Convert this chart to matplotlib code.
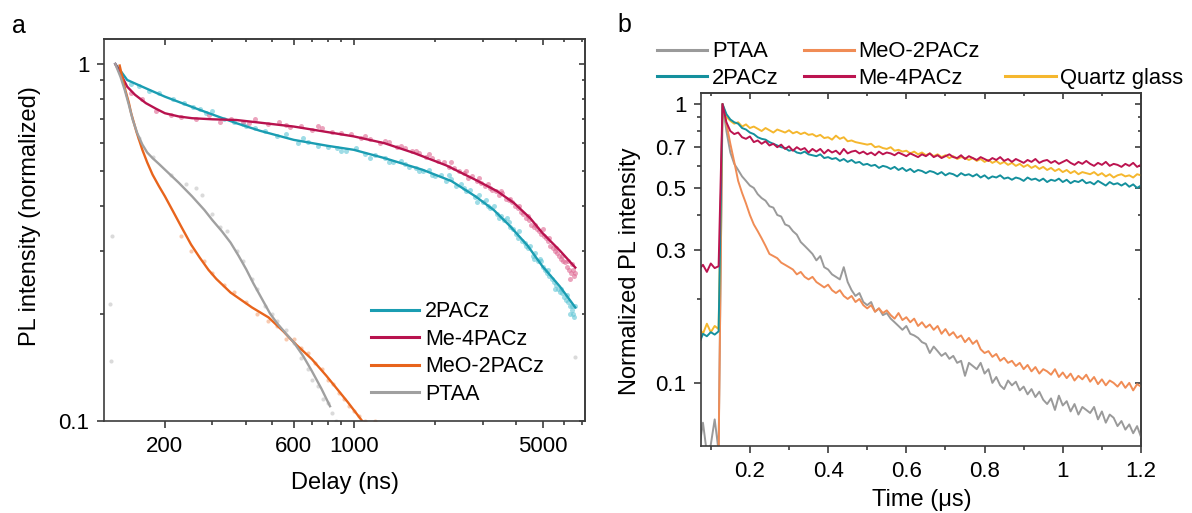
import matplotlib
matplotlib.use("Agg")
import matplotlib.pyplot as plt
from matplotlib.ticker import FixedLocator, NullFormatter, FixedFormatter
from matplotlib.lines import Line2D

plt.rcParams['font.family'] = ['Liberation Sans', 'DejaVu Sans']

# ---------------- panel a : fitted decays (Delay in ns) ----------------
fit_2pacz_x = [131, 138, 145, 170, 200, 269, 367, 450, 600, 800, 1000, 1300, 1792, 2300, 2820, 3300, 3795, 4400, 5000, 5800, 6610]
fit_2pacz_y = [1.0, 0.95, 0.902, 0.855, 0.81, 0.744, 0.683, 0.65, 0.613, 0.59, 0.575, 0.545, 0.506, 0.47, 0.426, 0.39, 0.351, 0.31, 0.271, 0.238, 0.208]

fit_me4_x = [131, 138, 145, 155, 170, 185, 200, 225, 252, 300, 367, 450, 600, 1000, 1300, 1675, 2200, 2820, 3400, 3920, 4500, 5000, 5800, 6610]
fit_me4_y = [1.0, 0.93, 0.864, 0.82, 0.777, 0.75, 0.728, 0.713, 0.705, 0.70, 0.697, 0.685, 0.668, 0.627, 0.60, 0.563, 0.52, 0.474, 0.44, 0.408, 0.37, 0.336, 0.30, 0.269]

fit_meo_x = [136, 140, 143, 147, 150, 157, 165, 172, 180, 190, 200, 215, 230, 250, 269, 290, 310, 350, 420, 484, 550, 600, 700, 791, 950, 1097, 1150]
fit_meo_y = [0.99, 0.90, 0.84, 0.78, 0.728, 0.645, 0.575, 0.53, 0.49, 0.455, 0.426, 0.385, 0.35, 0.312, 0.287, 0.265, 0.25, 0.229, 0.208, 0.195, 0.178, 0.166, 0.149, 0.134, 0.113, 0.098, 0.093]

fit_ptaa_x = [131, 137, 142, 147, 152, 158, 165, 172, 180, 190, 200, 225, 252, 280, 300, 325, 350, 375, 400, 425, 454, 490, 520, 560, 600, 650, 700, 760, 817]
fit_ptaa_y = [1.0, 0.92, 0.846, 0.77, 0.698, 0.64, 0.595, 0.565, 0.545, 0.525, 0.506, 0.465, 0.426, 0.39, 0.365, 0.34, 0.316, 0.29, 0.266, 0.243, 0.222, 0.20, 0.188, 0.176, 0.166, 0.152, 0.138, 0.123, 0.110]

pts_2pacz_x = [150, 160, 175, 190, 215, 235, 255, 285, 300, 330, 360, 400, 430, 470, 520, 560, 620, 680, 740, 800,
               870, 940, 1020, 1100, 1200, 1300, 1400, 1500, 1600, 1700, 1800, 1900, 2000, 2100, 2200, 2300, 2400, 2500, 2600, 2700,
               2800, 2900, 3000, 3100, 3200, 3300, 3400, 3500, 3600, 3700, 3800, 3900, 4000, 4100, 4200, 4300, 4400, 4500, 4600, 4700,
               4800, 4900, 5000, 5100, 5200, 5300, 5400, 5500, 5600, 5700, 5800, 5900, 6000, 6100, 6200, 6300, 6400, 6500, 6600,
               2250, 2550, 2850, 3150, 3450, 3750, 4050, 4350, 4650, 4950, 5250, 5550, 5850, 6150, 6450, 6300, 6550,
               1150, 1350, 1550, 1750, 1950, 650, 900, 390, 270]
pts_2pacz_y = [0.88, 0.87, 0.84, 0.83, 0.80, 0.78, 0.76, 0.73, 0.74, 0.70, 0.69, 0.67, 0.66, 0.65, 0.63, 0.635, 0.60, 0.605, 0.59, 0.585,
               0.58, 0.57, 0.58, 0.56, 0.555, 0.545, 0.53, 0.535, 0.515, 0.51, 0.50, 0.505, 0.485, 0.49, 0.47, 0.475, 0.455, 0.46, 0.44, 0.445,
               0.425, 0.43, 0.41, 0.415, 0.395, 0.40, 0.38, 0.375, 0.365, 0.37, 0.35, 0.345, 0.335, 0.34, 0.32, 0.315, 0.305, 0.31, 0.29, 0.295,
               0.28, 0.285, 0.27, 0.265, 0.26, 0.255, 0.25, 0.245, 0.24, 0.235, 0.23, 0.228, 0.222, 0.218, 0.215, 0.21, 0.205, 0.20, 0.21,
               0.49, 0.45, 0.41, 0.40, 0.37, 0.36, 0.325, 0.31, 0.285, 0.28, 0.265, 0.235, 0.235, 0.225, 0.21, 0.20, 0.195,
               0.545, 0.53, 0.525, 0.50, 0.49, 0.62, 0.57, 0.68, 0.75]

pts_me4_x = [150, 165, 185, 210, 230, 260, 290, 320, 350, 390, 430, 480, 530, 580, 640, 700, 760, 830, 900, 980,
             1060, 1150, 1250, 1350, 1450, 1550, 1650, 1750, 1850, 1950, 2050, 2150, 2250, 2350, 2450, 2550, 2650, 2750, 2850, 2950,
             3050, 3150, 3250, 3350, 3450, 3550, 3650, 3750, 3850, 3950, 4050, 4150, 4250, 4350, 4450, 4550, 4650, 4750, 4850, 4950,
             5050, 5150, 5250, 5350, 5450, 5550, 5650, 5750, 5850, 5950, 6050, 6150, 6250, 6350, 6450, 6550, 6600,
             2300, 2600, 2900, 3200, 3500, 3800, 4100, 4400, 4700, 5000, 5300, 5600, 5900, 6200, 6500, 6300,
             1100, 1300, 1500, 1700, 1900, 740, 560, 410]
pts_me4_y = [0.83, 0.80, 0.74, 0.72, 0.71, 0.70, 0.72, 0.69, 0.70, 0.69, 0.70, 0.68, 0.69, 0.665, 0.67, 0.655, 0.66, 0.645, 0.64, 0.635,
             0.62, 0.615, 0.60, 0.605, 0.585, 0.58, 0.57, 0.565, 0.55, 0.545, 0.535, 0.53, 0.515, 0.51, 0.50, 0.495, 0.48, 0.485, 0.47, 0.465,
             0.455, 0.46, 0.445, 0.44, 0.43, 0.435, 0.42, 0.415, 0.41, 0.40, 0.395, 0.385, 0.38, 0.37, 0.365, 0.355, 0.35, 0.345, 0.34, 0.335,
             0.33, 0.325, 0.32, 0.31, 0.305, 0.30, 0.295, 0.29, 0.285, 0.28, 0.278, 0.27, 0.265, 0.26, 0.275, 0.255, 0.26,
             0.53, 0.50, 0.48, 0.45, 0.44, 0.42, 0.40, 0.375, 0.355, 0.345, 0.325, 0.305, 0.29, 0.28, 0.265, 0.25,
             0.63, 0.61, 0.59, 0.57, 0.56, 0.67, 0.675, 0.685]

pts_meo_x = [230, 250, 280, 300, 330, 360, 400, 440, 480, 520, 560, 600, 640, 680, 720, 760, 800, 840, 880, 920, 960, 1000, 1050, 1100, 1150, 1200]
pts_meo_y = [0.33, 0.30, 0.28, 0.26, 0.24, 0.23, 0.215, 0.20, 0.19, 0.185, 0.17, 0.17, 0.16, 0.155, 0.145, 0.14, 0.13, 0.127, 0.12, 0.115, 0.11, 0.107, 0.103, 0.10, 0.098, 0.10]

pts_ptaa_x = [160, 180, 210, 240, 260, 275, 300, 320, 340, 370, 390, 420, 440, 470, 500, 520, 560, 600, 640, 680, 700, 740, 770, 800, 830, 860, 127, 125, 126, 6580]
pts_ptaa_y = [0.62, 0.55, 0.49, 0.46, 0.45, 0.43, 0.38, 0.35, 0.34, 0.30, 0.28, 0.25, 0.235, 0.21, 0.20, 0.19, 0.18, 0.165, 0.15, 0.14, 0.13, 0.125, 0.115, 0.112, 0.105, 0.10, 0.33, 0.212, 0.147, 0.151]

# ---------------- panel b : transients (Time in us) ----------------
time_us = [0.07, 0.08, 0.09, 0.10, 0.11, 0.12, 0.13, 0.14, 0.15, 0.16,
           0.17, 0.18, 0.19, 0.20, 0.21, 0.22, 0.23, 0.24, 0.25, 0.26,
           0.27, 0.28, 0.29, 0.30, 0.31, 0.32, 0.33, 0.34, 0.35, 0.36,
           0.37, 0.38, 0.39, 0.40, 0.41, 0.42, 0.43, 0.44, 0.45, 0.46,
           0.47, 0.48, 0.49, 0.50, 0.51, 0.52, 0.53, 0.54, 0.55, 0.56,
           0.57, 0.58, 0.59, 0.60, 0.61, 0.62, 0.63, 0.64, 0.65, 0.66,
           0.67, 0.68, 0.69, 0.70, 0.71, 0.72, 0.73, 0.74, 0.75, 0.76,
           0.77, 0.78, 0.79, 0.80, 0.81, 0.82, 0.83, 0.84, 0.85, 0.86,
           0.87, 0.88, 0.89, 0.90, 0.91, 0.92, 0.93, 0.94, 0.95, 0.96,
           0.97, 0.98, 0.99, 1.00, 1.01, 1.02, 1.03, 1.04, 1.05, 1.06,
           1.07, 1.08, 1.09, 1.10, 1.11, 1.12, 1.13, 1.14, 1.15, 1.16,
           1.17, 1.18, 1.19, 1.20]

pl_ptaa = [0.058, 0.072, 0.056, 0.060, 0.074, 0.057, 1.00, 0.80, 0.67, 0.61,
           0.58, 0.55, 0.53, 0.51, 0.50, 0.475, 0.46, 0.45, 0.43, 0.425,
           0.40, 0.395, 0.37, 0.365, 0.35, 0.34, 0.32, 0.31, 0.30, 0.29,
           0.275, 0.285, 0.26, 0.255, 0.245, 0.24, 0.235, 0.26, 0.23, 0.215,
           0.205, 0.21, 0.195, 0.19, 0.195, 0.18, 0.185, 0.175, 0.178, 0.17,
           0.165, 0.16, 0.155, 0.16, 0.15, 0.148, 0.145, 0.14, 0.138, 0.128,
           0.135, 0.13, 0.125, 0.128, 0.122, 0.125, 0.118, 0.12, 0.106, 0.118,
           0.115, 0.112, 0.118, 0.108, 0.112, 0.10, 0.105, 0.098, 0.095, 0.102,
           0.098, 0.101, 0.094, 0.097, 0.091, 0.095, 0.089, 0.093, 0.087, 0.084,
           0.088, 0.080, 0.090, 0.083, 0.086, 0.079, 0.084, 0.077, 0.082, 0.080,
           0.078, 0.082, 0.074, 0.079, 0.072, 0.077, 0.075, 0.070, 0.073, 0.068,
           0.071, 0.066, 0.070, 0.064]

pl_meo = [0.05, 0.05, 0.05, 0.05, 0.05, 0.055, 1.00, 0.85, 0.72, 0.62,
          0.53, 0.48, 0.44, 0.40, 0.37, 0.35, 0.33, 0.31, 0.29, 0.285,
          0.28, 0.27, 0.265, 0.26, 0.255, 0.245, 0.25, 0.24, 0.235, 0.24,
          0.23, 0.225, 0.22, 0.225, 0.215, 0.21, 0.215, 0.205, 0.20, 0.205,
          0.195, 0.20, 0.19, 0.185, 0.19, 0.18, 0.185, 0.178, 0.182, 0.175,
          0.17, 0.178, 0.168, 0.172, 0.165, 0.17, 0.16, 0.165, 0.158, 0.162,
          0.155, 0.16, 0.15, 0.156, 0.148, 0.152, 0.145, 0.148, 0.14, 0.145,
          0.138, 0.142, 0.132, 0.128, 0.13, 0.124, 0.127, 0.12, 0.123, 0.118,
          0.12, 0.115, 0.118, 0.112, 0.116, 0.11, 0.114, 0.108, 0.112, 0.11,
          0.107, 0.112, 0.105, 0.109, 0.104, 0.108, 0.102, 0.106, 0.103, 0.107,
          0.101, 0.105, 0.099, 0.103, 0.098, 0.102, 0.10, 0.097, 0.101, 0.096,
          0.10, 0.094, 0.099, 0.097]

pl_2pacz = [0.138, 0.150, 0.147, 0.152, 0.149, 0.153, 1.00, 0.92, 0.88, 0.86,
            0.85, 0.82, 0.81, 0.79, 0.78, 0.76, 0.75, 0.745, 0.73, 0.72,
            0.71, 0.70, 0.695, 0.68, 0.685, 0.67, 0.665, 0.675, 0.66, 0.655,
            0.65, 0.66, 0.64, 0.645, 0.635, 0.64, 0.625, 0.635, 0.62, 0.63,
            0.615, 0.62, 0.605, 0.61, 0.60, 0.605, 0.59, 0.60, 0.595, 0.585,
            0.595, 0.58, 0.59, 0.575, 0.585, 0.57, 0.58, 0.575, 0.565, 0.575,
            0.57, 0.56, 0.57, 0.555, 0.565, 0.56, 0.55, 0.565, 0.555, 0.56,
            0.55, 0.56, 0.545, 0.555, 0.54, 0.55, 0.545, 0.555, 0.54, 0.545,
            0.535, 0.545, 0.54, 0.53, 0.545, 0.535, 0.54, 0.53, 0.54, 0.525,
            0.535, 0.53, 0.54, 0.525, 0.535, 0.52, 0.53, 0.525, 0.535, 0.52,
            0.525, 0.515, 0.53, 0.52, 0.51, 0.525, 0.515, 0.52, 0.51, 0.52,
            0.505, 0.515, 0.50, 0.51]

pl_me4 = [0.255, 0.265, 0.25, 0.268, 0.258, 0.262, 1.00, 0.86, 0.80, 0.78,
          0.79, 0.76, 0.75, 0.765, 0.73, 0.74, 0.72, 0.735, 0.71, 0.72,
          0.70, 0.715, 0.69, 0.705, 0.68, 0.70, 0.685, 0.695, 0.67, 0.69,
          0.675, 0.69, 0.665, 0.685, 0.67, 0.68, 0.66, 0.69, 0.665, 0.675,
          0.68, 0.665, 0.675, 0.66, 0.67, 0.655, 0.675, 0.66, 0.67, 0.665,
          0.655, 0.67, 0.66, 0.65, 0.665, 0.655, 0.645, 0.66, 0.65, 0.665,
          0.645, 0.655, 0.64, 0.65, 0.66, 0.645, 0.64, 0.655, 0.635, 0.65,
          0.64, 0.63, 0.645, 0.635, 0.625, 0.64, 0.63, 0.645, 0.625, 0.635,
          0.62, 0.635, 0.625, 0.615, 0.63, 0.62, 0.635, 0.615, 0.625, 0.63,
          0.615, 0.625, 0.61, 0.62, 0.63, 0.615, 0.605, 0.62, 0.61, 0.625,
          0.61, 0.60, 0.615, 0.605, 0.62, 0.60, 0.61, 0.605, 0.595, 0.61,
          0.60, 0.615, 0.595, 0.605]

pl_quartz = [0.158, 0.150, 0.163, 0.152, 0.160, 0.156, 1.00, 0.90, 0.87, 0.85,
             0.86, 0.83, 0.845, 0.82, 0.83, 0.815, 0.80, 0.82, 0.805, 0.79,
             0.81, 0.80, 0.79, 0.805, 0.785, 0.795, 0.78, 0.79, 0.775, 0.78,
             0.765, 0.775, 0.755, 0.76, 0.745, 0.77, 0.75, 0.76, 0.735, 0.74,
             0.73, 0.725, 0.72, 0.715, 0.72, 0.70, 0.705, 0.695, 0.69, 0.70,
             0.68, 0.685, 0.675, 0.68, 0.665, 0.675, 0.66, 0.67, 0.655, 0.665,
             0.65, 0.66, 0.645, 0.655, 0.64, 0.65, 0.635, 0.645, 0.64, 0.63,
             0.64, 0.625, 0.635, 0.62, 0.63, 0.615, 0.625, 0.61, 0.62, 0.605,
             0.615, 0.60, 0.61, 0.595, 0.605, 0.59, 0.60, 0.585, 0.595, 0.58,
             0.59, 0.575, 0.585, 0.57, 0.58, 0.565, 0.575, 0.56, 0.57, 0.565,
             0.56, 0.57, 0.555, 0.565, 0.55, 0.56, 0.545, 0.555, 0.56, 0.55,
             0.555, 0.545, 0.56, 0.555]

# colours
c_teal_a, c_teal_pts = '#1a9db2', '#5fc6d6'
c_red_a, c_red_pts = '#b8124e', '#df6792'
c_org_a, c_org_pts = '#e8641c', '#f4a070'
c_gry_a, c_gry_pts = '#a0a0a0', '#bdbdbd'
c_ptaa_b, c_meo_b, c_2pacz_b, c_me4_b, c_quartz_b = '#9a9a9a', '#f08c55', '#14909d', '#bc1450', '#f5b72e'
spine_c = '#3c3c3c'

fig = plt.figure(figsize=(11.92, 5.13), dpi=100)


def style_axis(ax):
    for s in ax.spines.values():
        s.set_color(spine_c)
        s.set_linewidth(1.2)
    ax.tick_params(which='both', direction='out', color=spine_c, width=1.2, labelsize=16, pad=5.5)
    ax.tick_params(which='major', length=5)
    ax.tick_params(which='minor', length=3)


def mirror_ticks(ax, xmaj, xmin, ymaj, ymin):
    top = ax.secondary_xaxis('top')
    top.xaxis.set_major_locator(FixedLocator(xmaj))
    top.xaxis.set_minor_locator(FixedLocator(xmin))
    top.tick_params(which='both', direction='in', labeltop=False, color=spine_c, width=1.2)
    top.tick_params(which='major', length=4)
    top.tick_params(which='minor', length=2.5)
    top.spines['top'].set_color(spine_c)
    top.spines['top'].set_linewidth(1.2)
    right = ax.secondary_yaxis('right')
    right.yaxis.set_major_locator(FixedLocator(ymaj))
    right.yaxis.set_minor_locator(FixedLocator(ymin))
    right.tick_params(which='both', direction='in', labelright=False, color=spine_c, width=1.2)
    right.tick_params(which='major', length=4)
    right.tick_params(which='minor', length=2.5)
    right.spines['right'].set_color(spine_c)
    right.spines['right'].set_linewidth(1.2)


# ---------------- panel a ----------------
axa = fig.add_axes([104 / 1192, 92 / 513, 481 / 1192, 382 / 513])
axa.set_xscale('log')
axa.set_yscale('log')

axa.plot(pts_2pacz_x, pts_2pacz_y, 'o', ms=3.6, color=c_teal_pts, alpha=0.6, mec='none')
axa.plot(pts_me4_x, pts_me4_y, 'o', ms=3.6, color=c_red_pts, alpha=0.6, mec='none')
axa.plot(pts_meo_x, pts_meo_y, 'o', ms=3.0, color=c_org_pts, alpha=0.55, mec='none')
axa.plot(pts_ptaa_x, pts_ptaa_y, 'o', ms=3.0, color=c_gry_pts, alpha=0.55, mec='none')

axa.plot(fit_2pacz_x, fit_2pacz_y, color=c_teal_a, lw=1.7, label='2PACz')
axa.plot(fit_me4_x, fit_me4_y, color=c_red_a, lw=1.7, label='Me-4PACz')
axa.plot(fit_meo_x, fit_meo_y, color=c_org_a, lw=1.7, label='MeO-2PACz')
axa.plot(fit_ptaa_x, fit_ptaa_y, color=c_gry_a, lw=1.7, label='PTAA')

axa.set_xlim(119, 7180)
axa.set_ylim(0.1, 1.175)
style_axis(axa)
xa_major = [200, 600, 1000, 5000]
xa_minor = [300, 400, 500, 700, 800, 900, 2000, 3000, 4000, 6000, 7000]
ya_major = [0.1, 1]
ya_minor = [0.2, 0.3, 0.4, 0.5, 0.6, 0.7, 0.8, 0.9]
axa.xaxis.set_major_locator(FixedLocator(xa_major))
axa.xaxis.set_major_formatter(FixedFormatter(['200', '600', '1000', '5000']))
axa.xaxis.set_minor_locator(FixedLocator(xa_minor))
axa.xaxis.set_minor_formatter(NullFormatter())
axa.yaxis.set_major_locator(FixedLocator(ya_major))
axa.yaxis.set_major_formatter(FixedFormatter(['0.1', '1']))
axa.yaxis.set_minor_locator(FixedLocator(ya_minor))
axa.yaxis.set_minor_formatter(NullFormatter())
mirror_ticks(axa, xa_major, xa_minor, ya_major, ya_minor)

axa.set_xlabel('Delay (ns)', fontsize=17)
axa.xaxis.set_label_coords(0.501, -0.162)
axa.xaxis.label.set_va('center')
axa.set_ylabel('PL intensity (normalized)', fontsize=17)
axa.yaxis.set_label_coords(-0.154, 0.537)
axa.yaxis.label.set_va('center')

leg_a = axa.legend(loc='center left', bbox_to_anchor=(371 / 1192, 1 - 353 / 513), bbox_transform=fig.transFigure,
                   frameon=False, fontsize=15.5, handlelength=2.25, handletextpad=0.25, labelspacing=0.3,
                   borderpad=0, borderaxespad=0)
for ln in leg_a.get_lines():
    ln.set_linewidth(2.2)

fig.text(12 / 1192, 1 - 26 / 513, 'a', fontsize=18, va='center', ha='left')

# ---------------- panel b ----------------
axb = fig.add_axes([701 / 1192, 67 / 513, 440 / 1192, 353 / 513])
axb.set_yscale('log')

axb.plot(time_us, pl_ptaa, color=c_ptaa_b, lw=1.4, label='PTAA')
axb.plot(time_us, pl_meo, color=c_meo_b, lw=1.4, label='MeO-2PACz')
axb.plot(time_us, pl_quartz, color=c_quartz_b, lw=1.4, label='Quartz glass')
axb.plot(time_us, pl_2pacz, color=c_2pacz_b, lw=1.4, label='2PACz')
axb.plot(time_us, pl_me4, color=c_me4_b, lw=1.4, label='Me-4PACz')

axb.set_xlim(0.075, 1.2)
axb.set_ylim(0.0594, 1.095)
style_axis(axb)
xb_major = [0.2, 0.4, 0.6, 0.8, 1.0, 1.2]
xb_minor = [0.1, 0.3, 0.5, 0.7, 0.9, 1.1]
yb_major = [0.1, 0.3, 0.5, 0.7, 1.0]
yb_minor = [0.2, 0.4, 0.6, 0.8, 0.9]
axb.xaxis.set_major_locator(FixedLocator(xb_major))
axb.xaxis.set_major_formatter(FixedFormatter(['0.2', '0.4', '0.6', '0.8', '1', '1.2']))
axb.xaxis.set_minor_locator(FixedLocator(xb_minor))
axb.yaxis.set_major_locator(FixedLocator(yb_major))
axb.yaxis.set_major_formatter(FixedFormatter(['0.1', '0.3', '0.5', '0.7', '1']))
axb.yaxis.set_minor_locator(FixedLocator(yb_minor))
axb.yaxis.set_minor_formatter(NullFormatter())
mirror_ticks(axb, xb_major, xb_minor, yb_major, yb_minor)

axb.set_xlabel('Time (μs)', fontsize=17)
axb.xaxis.set_label_coords(0.502, -0.153)
axb.xaxis.label.set_va('center')
axb.set_ylabel('Normalized PL intensity', fontsize=17)
axb.yaxis.set_label_coords(-0.161, 0.496)
axb.yaxis.label.set_va('center')

# legend: row 1 PTAA, MeO-2PACz ; row 2 2PACz, Me-4PACz, Quartz glass
hb, lb = axb.get_legend_handles_labels()
hmap = dict(zip(lb, hb))
blank = Line2D([], [], alpha=0)
leg_handles = [hmap['PTAA'], hmap['2PACz'], hmap['MeO-2PACz'], hmap['Me-4PACz'], blank, hmap['Quartz glass']]
leg_labels = ['PTAA', '2PACz', 'MeO-2PACz', 'Me-4PACz', '', 'Quartz glass']
leg_b = axb.legend(leg_handles, leg_labels, ncol=3, loc='center left', bbox_to_anchor=(657 / 1192, 1 - 65 / 513),
                   bbox_transform=fig.transFigure, frameon=False, fontsize=15.8, handlelength=2.3, handletextpad=0.2,
                   labelspacing=0.25, columnspacing=1.15, borderpad=0, borderaxespad=0)
for ln in leg_b.get_lines():
    ln.set_linewidth(2.2)

fig.text(617 / 1192, 1 - 25 / 513, 'b', fontsize=18, va='center', ha='left')

fig.savefig('out.png', dpi=100)
